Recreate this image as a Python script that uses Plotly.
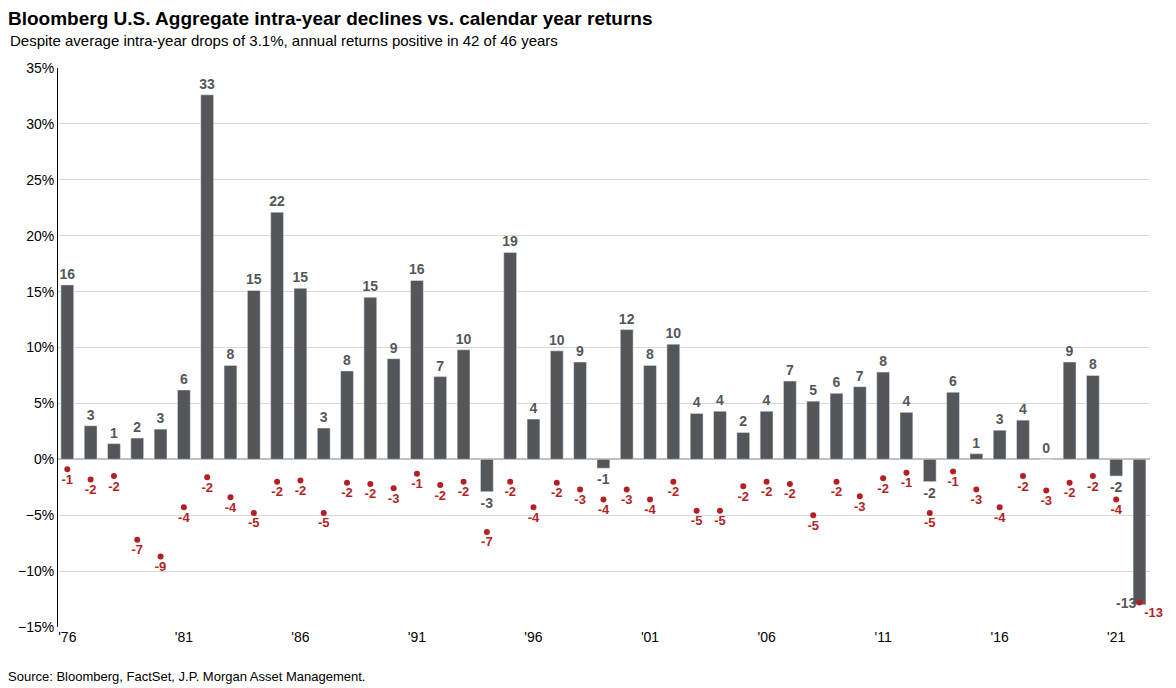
import plotly.graph_objects as go

years = list(range(1976, 2023))
returns = [15.6, 3.0, 1.4, 1.9, 2.7, 6.2, 32.6, 8.4, 15.1, 22.1, 15.3, 2.8, 7.9, 14.5, 9.0, 16.0, 7.4, 9.8, -2.9, 18.5,
           3.6, 9.7, 8.7, -0.8, 11.6, 8.4, 10.3, 4.1, 4.3, 2.4, 4.3, 7.0, 5.2, 5.9, 6.5, 7.8, 4.2, -2.0, 6.0, 0.5,
           2.6, 3.5, 0.0, 8.7, 7.5, -1.5, -13.0]
return_labels = [16, 3, 1, 2, 3, 6, 33, 8, 15, 22, 15, 3, 8, 15, 9, 16, 7, 10, -3, 19,
                 4, 10, 9, -1, 12, 8, 10, 4, 4, 2, 4, 7, 5, 6, 7, 8, 4, -2, 6, 1,
                 3, 4, 0, 9, 8, -2, -13]
drops = [-0.9, -1.8, -1.5, -7.2, -8.7, -4.3, -1.6, -3.4, -4.8, -2.0, -1.9, -4.8, -2.1, -2.2, -2.6, -1.3, -2.3, -2.0, -6.5, -2.0,
         -4.3, -2.1, -2.7, -3.6, -2.7, -3.6, -2.0, -4.6, -4.6, -2.4, -2.0, -2.2, -5.0, -2.0, -3.3, -1.7, -1.2, -4.8, -1.1, -2.7,
         -4.3, -1.5, -2.8, -2.1, -1.5, -3.6, -12.8]
drop_labels = [-1, -2, -2, -7, -9, -4, -2, -4, -5, -2, -2, -5, -2, -2, -3, -1, -2, -2, -7, -2,
               -4, -2, -3, -4, -3, -4, -2, -5, -5, -2, -2, -2, -5, -2, -3, -2, -1, -5, -1, -3,
               -4, -2, -3, -2, -2, -4, -13]
tick_years = [1976, 1981, 1986, 1991, 1996, 2001, 2006, 2011, 2016, 2021]
tick_labels = ["'76", "'81", "'86", "'91", "'96", "'01", "'06", "'11", "'16", "'21"]

gray = "#54575a"
red = "#b51f24"
font = "Liberation Sans"

fig = go.Figure()
bar_text = ["<b>%d</b>" % v for v in return_labels]
bar_text[-1] = ""
lblfont = dict(color=gray, size=14, family=font)
fig.add_trace(go.Bar(x=years, y=returns, marker_color=gray, width=0.55,
                     text=bar_text, textposition="outside", cliponaxis=False,
                     textfont=lblfont, outsidetextfont=lblfont, hoverinfo="skip"))
fig.add_trace(go.Scatter(x=years, y=drops, mode="markers+text", marker=dict(color=red, size=6),
                         text=["<b>%d</b>" % v for v in drop_labels],
                         textposition=["bottom center"] * (len(years) - 1) + ["bottom right"],
                         textfont=dict(color=red, size=13, family=font), cliponaxis=False,
                         hoverinfo="skip"))
fig.add_annotation(x=years[-1], y=returns[-1], text="<b>%d</b>" % return_labels[-1], showarrow=False,
                   xanchor="right", yanchor="middle", xshift=-2, yshift=2,
                   font=dict(color=gray, size=14, family=font))

fig.update_layout(
    width=1176, height=688, plot_bgcolor="white", paper_bgcolor="white",
    margin=dict(l=50, r=34, t=60, b=69, autoexpand=False), showlegend=False,
    font=dict(family=font, color="#222"),
    uniformtext=dict(minsize=14, mode="show"),
    title=dict(text="<b>Bloomberg U.S. Aggregate intra-year declines vs. calendar year returns</b>",
               x=0.0, xanchor="left", y=0.995, yanchor="top", font=dict(size=19, color="#000")),
)
fig.add_annotation(text="Despite average intra-year drops of 3.1%, annual returns positive in 42 of 46 years",
                   xref="paper", yref="paper", x=-0.046, y=1.068, xanchor="left", yanchor="top",
                   showarrow=False, font=dict(size=15, color="#000"))
fig.add_annotation(text="Source: Bloomberg, FactSet, J.P. Morgan Asset Management.",
                   xref="paper", yref="paper", x=-0.048, y=-0.072, xanchor="left", yanchor="top",
                   showarrow=False, font=dict(size=13, color="#000"))
fig.update_yaxes(range=[-15, 35], dtick=5, ticksuffix="%", showgrid=True, gridcolor="#d9d9d9",
                 zeroline=True, zerolinecolor="#bfbfbf", showline=True, linecolor="#000",
                 tickfont=dict(size=14, color="#000"))
fig.update_xaxes(range=[1975.6, 2022.45], tickvals=tick_years, ticktext=tick_labels, showgrid=False,
                 ticks="", tickfont=dict(size=14, color="#000"))
fig.write_html("out.html")
